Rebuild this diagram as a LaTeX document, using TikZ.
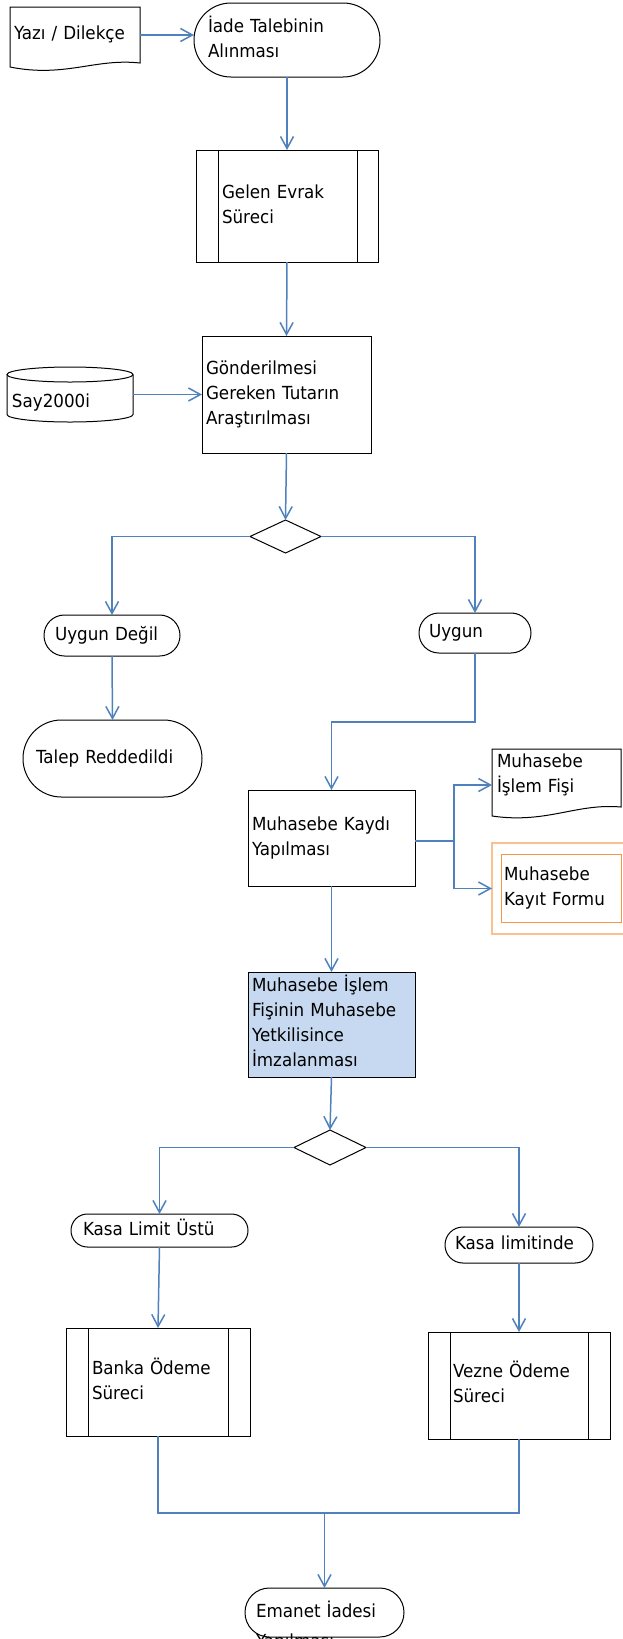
\documentclass[tikz,border=0pt]{standalone}
\usepackage{fontspec}
\setmainfont{DejaVu Sans}[FakeStretch=0.93]
\usetikzlibrary{shapes.geometric,arrows.meta,calc}
\definecolor{cblue}{HTML}{4F81BD}
\definecolor{fillblue}{HTML}{C6D9F1}
\definecolor{orlight}{HTML}{FAC08F}
\definecolor{ordark}{HTML}{F79646}
\begin{document}
\begin{tikzpicture}[x=1pt,y=-1pt,
  base/.style={line width=1pt, outer sep=0pt, inner ysep=0pt, align=left,
    font=\fontsize{18}{25}\selectfont, text height=13pt, text depth=4pt},
  geom/.style n args={3}{minimum width=#1, minimum height=#2, inner xsep=#3, text width=#1-2*#3},
  proc/.style={base, draw=black},
  term/.style={base, draw=black, rounded corners=#1},
  dec/.style={diamond, draw=black, line width=1pt, inner sep=0pt, outer sep=0pt},
  outline/.style={draw=black, line width=1pt},
  flow/.style={draw=cblue, line width=1.5pt},
  arr/.style={flow, -{Straight Barb[length=12pt,width=13pt]}}
]
\useasboundingbox (0,0) rectangle (622,1639);

% Yazi / Dilekce (document)
\node[base, geom={130}{56}{4}] (yazi) at (75,35) {Yazı / Dilekçe};
\draw[outline] (yazi.north west) -- (yazi.north east) -- (yazi.south east)
  .. controls ([xshift=-45pt,yshift=5pt]yazi.south east) and ([xshift=55pt,yshift=-15pt]yazi.south west)
  .. ([yshift=-4pt]yazi.south west) -- cycle;

\node[term=36.9, geom={186}{74}{14}, text depth=29pt] (iade) at (287,40) {İade Talebinin\\Alınması};

\node[proc, geom={182}{112}{26}, text depth=29pt] (gelen) at (287,206) {Gelen Evrak\\Süreci};
\draw[outline] ([xshift=22pt]gelen.north west) -- ([xshift=22pt]gelen.south west);
\draw[outline] ([xshift=-21pt]gelen.north east) -- ([xshift=-21pt]gelen.south east);

\node[proc, geom={169}{117}{4}, text depth=54pt] (gond) at (286.5,394.5) {Gönderilmesi\\Gereken Tutarın\\Araştırılması};

% Say2000i (cylinder)
\node[base, geom={126}{55}{5}, text height=29pt] (say) at (70,394.5) {Say2000i};
\draw[outline] ([yshift=-7.5pt]say.north west) -- ([yshift=7.5pt]say.south west)
  arc[start angle=180, end angle=360, x radius=63pt, y radius=7.5pt]
  -- ([yshift=-7.5pt]say.north east);
\draw[outline] ([yshift=-7.5pt]say.north) ellipse[x radius=63pt, y radius=7.5pt];

\node[dec, minimum width=71, minimum height=33] (d1) at (285.5,536.5) {};

\node[term=20.4, geom={136}{41}{11}] (ungd) at (112,635.5) {Uygun Değil};
\node[term=38.4, geom={179}{77}{13}] (talep) at (112.5,758.5) {Talep Reddedildi};
\node[term=19.9, geom={112}{40}{10}] (uygun) at (475,633) {Uygun};

\node[proc, geom={167}{96}{4}, text depth=29pt] (kaydi) at (331.5,838) {Muhasebe Kaydı\\Yapılması};

% Muhasebe Islem Fisi (document)
\node[base, geom={129}{58}{5}, text depth=35pt] (fisi) at (556.5,778) {Muhasebe\\İşlem Fişi};
\draw[outline] (fisi.north west) -- (fisi.north east) -- (fisi.south east)
  .. controls ([xshift=-45pt,yshift=4pt]fisi.south east) and ([xshift=55pt,yshift=-17pt]fisi.south west)
  .. ([yshift=-9pt]fisi.south west) -- cycle;

\node[draw=orlight, line width=1.2pt, minimum width=140, minimum height=91, inner sep=0pt, outer sep=0pt] (formu) at (562,888.5) {};
\node[base, draw=ordark, line width=1pt, geom={120}{68}{3}, text depth=29pt] (formuin) at (561,888) {Muhasebe\\Kayıt Formu};

\node[proc, fill=fillblue, geom={167}{105}{4}, text depth=79pt] (imza) at (331.5,1024.5) {Muhasebe İşlem\\Fişinin Muhasebe\\Yetkilisince\\İmzalanması};

\node[dec, minimum width=72, minimum height=35] (d2) at (330,1147.5) {};

\node[term=16.4, geom={177}{33}{12}] (klu) at (159.5,1230.5) {Kasa Limit Üstü};
\node[term=17.9, geom={148}{36}{10}] (kl) at (519,1245) {Kasa limitinde};

\node[proc, geom={184}{108}{26}, text depth=29pt] (banka) at (158,1382) {Banka Ödeme\\Süreci};
\draw[outline] ([xshift=22pt]banka.north west) -- ([xshift=22pt]banka.south west);
\draw[outline] ([xshift=-22pt]banka.north east) -- ([xshift=-22pt]banka.south east);

\node[proc, geom={182}{107}{25}, text depth=29pt] (vezne) at (519,1385.5) {Vezne Ödeme\\Süreci};
\draw[outline] ([xshift=22pt]vezne.north west) -- ([xshift=22pt]vezne.south west);
\draw[outline] ([xshift=-22pt]vezne.north east) -- ([xshift=-22pt]vezne.south east);

\node[term=24.4, geom={159}{49}{11}] (emanet) at (324.5,1612.5) {Emanet İadesi\\[5pt]Yapılması};

% connectors
\draw[arr] (yazi.east) -- (yazi.east -| iade.west);
\draw[arr] (iade.south) -- (gelen.north);
\draw[arr] (gelen.south) -- (gond.north);
\draw[arr] (say.east) -- (gond.west);
\draw[arr] (gond.south) -- (d1.north);
\draw[arr] (d1.west) -| (ungd.north);
\draw[arr] (d1.east) -| (uygun.north);
\draw[arr] (ungd.south) -- (talep.north);
\coordinate (j1) at (0,722);
\draw[arr] (uygun.south) -- (uygun.south |- j1) -| (kaydi.north);
\coordinate (br) at (454,841);
\draw[flow] (kaydi.east |- br) -- (br);
\draw[arr] (br) |- ([yshift=-7pt]fisi.west);
\draw[arr] (br) |- (formu.west);
\draw[arr] (kaydi.south) -- (imza.north);
\draw[arr] (imza.south) -- (d2.north);
\draw[arr] (d2.west) -| (klu.north);
\draw[arr] (d2.east) -| (kl.north);
\draw[arr] (klu.south) -- (banka.north);
\draw[arr] (kl.south) -- (vezne.north);
\coordinate (j2) at (0,1513);
\draw[flow] (banka.south) |- (vezne.south |- j2) -- (vezne.south);
\draw[arr] (emanet.north |- j2) -- (emanet.north);
\end{tikzpicture}
\end{document}
